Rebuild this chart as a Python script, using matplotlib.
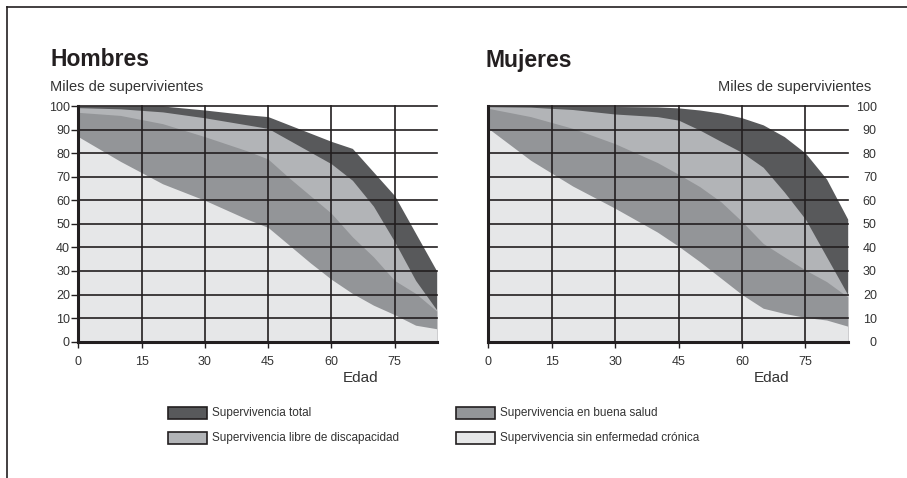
import numpy as np
import matplotlib
matplotlib.use('Agg')
import matplotlib.pyplot as plt
from matplotlib.lines import Line2D
from matplotlib.patches import Rectangle

DARK = '#58595b'
LIGHT = '#b2b4b7'
MID = '#939598'
PALE = '#e6e7e8'
INK = '#231f20'
TXT = '#333333'

plt.rcParams.update({'font.family': ['Liberation Sans', 'DejaVu Sans'], 'font.size': 9})

AGES = [0, 10, 20, 30, 40, 45, 50, 55, 60, 65, 70, 75, 80, 85]
XTICKS = [0, 15, 30, 45, 60, 75]
YTICKS = list(range(0, 101, 10))

# Hombres
h_total = [100, 100, 100, 98.3, 96.3, 95.5, 92, 88.5, 85, 82, 72, 62, 46, 30]
h_libre = [99.3, 98.8, 97.5, 95, 92, 90.5, 85.5, 80.5, 75.5, 68.5, 57.5, 42.5, 26, 13.5]
h_buena = [97.3, 96, 92.5, 87, 81, 77.5, 69.5, 62, 54.5, 44.5, 36, 26, 20.5, 13]
h_sin = [87, 76.5, 67, 60, 52, 48.5, 41, 33.5, 26.5, 20.5, 15.5, 11.5, 7, 5.5]

# Mujeres
m_total = [100, 100, 100, 99.8, 99.6, 99.2, 98.3, 97, 95, 92, 87, 80, 69, 52]
m_libre = [99.7, 99.5, 98.5, 96.6, 95.5, 94, 89.8, 85, 80.3, 74, 63.5, 52, 36, 20]
m_buena = [99, 95.5, 90.5, 84, 76, 71, 65.8, 59.4, 51, 41.7, 36, 30.4, 25.5, 19]
m_sin = [90.5, 77, 66, 56.6, 46.5, 40.5, 34, 27, 20, 14.2, 12, 10.3, 9.2, 6.6]

SERIES_LABELS = ['Supervivencia total', 'Supervivencia libre de discapacidad',
                 'Supervivencia en buena salud', 'Supervivencia sin enfermedad crónica']
COLORS = [DARK, LIGHT, MID, PALE]

W, H = 907, 478
fig = plt.figure(figsize=(W / 100, H / 100), dpi=100)


def px(x0, y0, w, h):
    return [x0 / W, 1 - (y0 + h) / H, w / W, h / H]


def panel(ax, series, right=False):
    for vals, c in zip(series, COLORS):
        ax.fill_between(AGES, vals, 0, color=c, lw=0, zorder=1)
    ax.set_xlim(0, 85)
    ax.set_ylim(0, 100)
    ax.set_xticks(XTICKS)
    ax.set_yticks(YTICKS)
    ax.set_axisbelow(False)
    ax.grid(True, color=INK, lw=1.2)
    for ln in ax.get_ygridlines() + ax.get_xgridlines():
        ln.set_clip_on(False)
    for s in ['top', 'right']:
        ax.spines[s].set_visible(False)
    for s in ['left', 'bottom']:
        ax.spines[s].set_linewidth(2.2)
        ax.spines[s].set_color(INK)
        ax.spines[s].set_zorder(4)
    ax.tick_params(axis='x', length=4, width=1, color=INK, pad=6.5, labelsize=9, labelcolor=TXT)
    if right:
        ax.tick_params(axis='y', left=False, right=False, labelleft=False, labelright=True,
                       pad=17.5, labelsize=9, labelcolor=TXT)
        for lb in ax.get_yticklabels():
            lb.set_ha('right')
    else:
        ax.tick_params(axis='y', length=5, width=1, color=INK, pad=1, labelsize=9, labelcolor=TXT)
    ax.text(67, -0.155, 'Edad', transform=ax.get_xaxis_transform(), ha='center', va='center',
            fontsize=11, color=TXT)


ax1 = fig.add_axes(px(78.3, 106, 358.4, 235.7))
panel(ax1, [h_total, h_libre, h_buena, h_sin])
ax2 = fig.add_axes(px(488.3, 106, 359.4, 235.7))
panel(ax2, [m_total, m_libre, m_buena, m_sin], right=True)

# titles
fig.text(50 / W, 1 - 66.5 / H, 'Hombres', fontsize=16.5, fontweight='bold', color=INK, va='baseline')
fig.text(50 / W, 1 - 90.7 / H, 'Miles de supervivientes', fontsize=10.5, color=TXT, va='baseline')
fig.text(485 / W, 1 - 66.5 / H, 'Mujeres', fontsize=16.5, fontweight='bold', color=INK, va='baseline')
fig.text(871 / W, 1 - 90.7 / H, 'Miles de supervivientes', fontsize=10.5, color=TXT,
         va='baseline', ha='right')

# legend
pos = [(167.5, 413), (167.5, 438), (455.5, 413), (455.5, 438)]
for (lx, ly), lab, c in zip(pos, SERIES_LABELS, COLORS):
    fig.add_artist(Rectangle((lx / W, 1 - (ly + 6) / H), 39 / W, 12 / H, transform=fig.transFigure,
                             facecolor=c, edgecolor=INK, lw=1.2))
    fig.text((lx + 45) / W, 1 - ly / H, lab, fontsize=8.5, color=TXT, va='center')

# frame
fig.add_artist(Line2D([7 / W, 1], [1 - 7 / H, 1 - 7 / H], color=INK, lw=1.2, transform=fig.transFigure))
fig.add_artist(Line2D([7 / W, 7 / W], [0, 1 - 7 / H], color=INK, lw=1.2, transform=fig.transFigure))

fig.savefig('out.png', dpi=100)
